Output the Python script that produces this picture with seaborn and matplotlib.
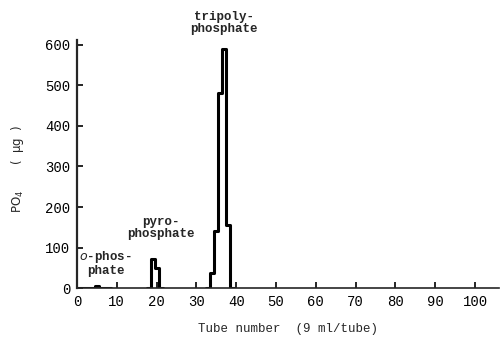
import matplotlib
matplotlib.use("Agg")
import matplotlib.pyplot as plt
import seaborn as sns

# tube number -> PO4 (ug), one list pair per fraction
ortho_tube = [0, 1, 2, 3, 4, 5, 6, 7, 8]
ortho_po4 = [0, 0, 0, 0, 0, 6, 0, 0, 0]
pyro_tube = [18, 19, 20, 21]
pyro_po4 = [0, 72, 50, 0]
tripoly_tube = [33, 34, 35, 36, 37, 38, 39]
tripoly_po4 = [0, 37, 140, 480, 590, 155, 0]

x_ticks = [0, 10, 20, 30, 40, 50, 60, 70, 80, 90, 100]
y_ticks = [0, 100, 200, 300, 400, 500, 600]

sns.set_style("ticks")
plt.rcParams["font.family"] = ["Liberation Mono", "DejaVu Sans"]

fig = plt.figure(figsize=(5.0, 3.41), dpi=100)
ax = fig.add_axes([0.154, 0.155, 0.844, 0.728])

for tubes, po4 in [(ortho_tube, ortho_po4), (pyro_tube, pyro_po4), (tripoly_tube, tripoly_po4)]:
	sns.histplot(x=tubes, weights=po4, discrete=True, element="step", fill=False,
		color="black", linewidth=2.2, ax=ax)

ax.set_xlim(0, 106)
ax.set_ylim(0, 612)
ax.set_xticks(x_ticks)
ax.set_yticks(y_ticks)
ax.tick_params(direction="in", length=4, width=1.2, colors="black", labelsize=10, pad=5)
sns.despine(ax=ax)
ax.spines["left"].set_linewidth(1.6)
ax.spines["bottom"].set_linewidth(1.2)

ax.set_xlabel("Tube number  (9 ml/tube)", fontsize=9, labelpad=10)
ax.set_ylabel("PO$_4$       (  \u03bcg  )", fontsize=8.5, family=["DejaVu Sans"])
ax.yaxis.set_label_coords(-0.122, 0.48)

ax.text(37, 624, "tripoly-\nphosphate", ha="center", va="bottom", fontsize=9,
	fontweight="bold", linespacing=1.05, clip_on=False)
ax.text(21, 118, "pyro-\nphosphate", ha="center", va="bottom", fontsize=9,
	fontweight="bold", linespacing=1.05)
ax.text(7.2, 27, "$\\mathit{o}$-phos-\nphate", ha="center", va="bottom", fontsize=9,
	fontweight="bold", linespacing=1.05)

fig.savefig("out.png", dpi=100)
